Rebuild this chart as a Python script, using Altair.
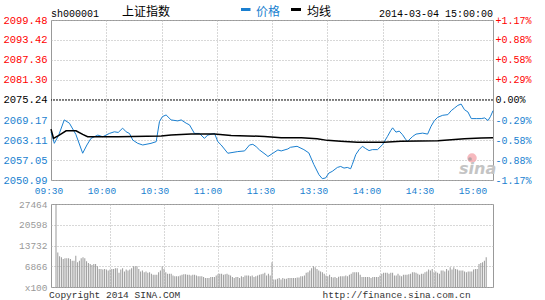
import altair as alt
import pandas as pd

# ---------------- data ----------------
SYMBOL = "sh000001"
NAME = "上证指数"
STAMP = "2014-03-04 15:00:00"
LEGEND_PRICE = "价格"
LEGEND_AVG = "均线"
COPYRIGHT = "Copyright 2014 SINA.COM"
URL = "http://finance.sina.com.cn"
WATERMARK = "sina"

PREV_CLOSE = 2075.24
PRICE_TICKS = [2050.99, 2057.05, 2063.11, 2069.17, 2075.24, 2081.30, 2087.36, 2093.42, 2099.48]
TIME_TICKS = [0, 30, 60, 90, 120, 150, 180, 210, 240]
TIME_LABELS = ["09:30", "10:00", "10:30", "11:00", "11:30", "13:30", "14:00", "14:30", "15:00"]
VOL_TICKS = [0, 6866, 13732, 20598, 27464]

price_minute = [0, 1.8, 4.2, 7.2, 10, 13.5, 17.2, 19.5, 21.7, 25.4, 28.1, 31.7, 34.4, 36.5, 38.9,
                40.8, 42.6, 44.4, 47.1, 49.8, 54.3, 57.1, 58.9, 60.5, 62.5, 65.2, 68.8, 70.7, 73.4,
                75.2, 77.9, 80.6, 83.3, 85.1, 88.8, 90.6, 92.4, 96, 101.4, 105.1, 107.8, 109.6, 111.4,
                113.2, 116.8, 117.8, 120.5, 123.2, 125, 128.6, 130, 133.6, 137.3, 140, 142.7, 145.5,
                147.3, 149.1, 150.9, 152.7, 155.5, 157.3, 159.1, 160.9, 162.7, 163.6, 165.5, 167.3,
                169.1, 170.9, 172.7, 174.5, 177.3, 180, 182.7, 184.5, 185.5, 187.3, 189.1, 190.9,
                192.7, 193.6, 196.4, 198.2, 201.8, 204.5, 206.4, 208.2, 210, 212.7, 215.5, 217.3,
                219.1, 220.9, 222.7, 224.5, 226.4, 228.2, 230.9, 233.6, 235.5, 237.3, 238.7, 240]
price_value = [2065.6, 2062.1, 2064.6, 2069.2, 2068.2, 2064.8, 2059.1, 2061.6, 2063.6, 2064.6,
               2064.1, 2065.1, 2065.6, 2065.4, 2066.7, 2065.6, 2065.1, 2063.1, 2062.1, 2061.6,
               2062.1, 2062.6, 2068.7, 2070.2, 2070.7, 2069.2, 2068.9, 2069.2, 2068.2, 2067.7,
               2065.1, 2065.1, 2063.6, 2064.6, 2065.1, 2062.6, 2061.6, 2059.1, 2059.6, 2059.8,
               2061.6, 2061.8, 2061.1, 2060.1, 2058.6, 2058.1, 2059.1, 2060.1, 2059.8, 2060.4,
               2060.9, 2061.2, 2060.2, 2059.2, 2055.7, 2052.6, 2051.4, 2051.6, 2053.1, 2053.6,
               2054.8, 2055.1, 2054.6, 2054.8, 2054.4, 2055.7, 2058.7, 2060.2, 2061.2, 2060.5,
               2059.9, 2060.2, 2060.2, 2061.7, 2064.2, 2066.0, 2066.8, 2065.5, 2065.8, 2064.7,
               2063.2, 2062.7, 2064.2, 2064.9, 2065.2, 2064.9, 2067.3, 2069.0, 2070.0, 2070.6,
               2070.8, 2072.0, 2072.8, 2073.6, 2074.0, 2072.3, 2071.6, 2069.6, 2069.6, 2069.6,
               2069.8, 2069.0, 2070.3, 2072.0]

avg_minute = [0, 1.4, 4.5, 8.2, 13.6, 17.2, 19.9, 36.2, 59.8, 65.2, 76.1, 88.8, 97.8, 115.9, 125,
              136, 144.5, 150, 157.3, 166.4, 180.9, 190, 210, 217.3, 224.5, 233.6, 240]
avg_value = [2066.4, 2063.6, 2064.6, 2065.9, 2065.9, 2064.8, 2064.1, 2064.1, 2064.3, 2064.6, 2064.9,
             2064.9, 2064.5, 2064.2, 2063.8, 2063.8, 2063.5, 2063.0, 2062.7, 2062.4, 2062.4, 2062.7,
             2062.9, 2063.2, 2063.5, 2063.7, 2063.8]

volume = [
    27464, 11445, 10137, 9810, 9265, 9483, 9483, 9483, 9265, 8720,
    8720, 10355, 8175, 8720, 9483, 9810, 9483, 8502, 7957, 7630,
    7303, 7630, 7630, 6867, 5995, 5995, 5777, 5995, 5777, 5450,
    5777, 5995, 5995, 6213, 6213, 4687, 5777, 6213, 5123, 5777,
    5450, 5777, 6213, 6867, 6867, 6867, 5995, 5123, 5450, 4905,
    5123, 4687, 4905, 4360, 4033, 4033, 4033, 4905, 5450, 6867,
    5995, 4905, 4360, 4360, 4360, 3815, 3597, 3597, 3597, 3815,
    4033, 4251, 4251, 4033, 4033, 3815, 4033, 4033, 3815, 3597,
    3597, 3597, 3270, 2943, 2943, 2943, 3270, 3270, 3270, 3815,
    4251, 4360, 4360, 4033, 4251, 4360, 4033, 3815, 3270, 2943,
    3270, 3270, 2943, 3597, 3270, 3815, 3815, 3815, 3597, 3815,
    3270, 3597, 3815, 4033, 4251, 4360, 4687, 3815, 4360, 3815,
    8175, 2507, 2507, 2725, 2943, 2507, 2943, 2725, 2725, 2943,
    2943, 2943, 2943, 2943, 3161, 3161, 3597, 3597, 3815, 4687,
    4905, 5450, 6213, 6867, 6540, 5995, 5450, 5123, 4905, 4360,
    3815, 3597, 4033, 3270, 3161, 3270, 2943, 3379, 3597, 3597,
    3597, 3815, 3597, 4033, 4360, 4905, 4905, 4905, 4905, 4033,
    3270, 3270, 3270, 3270, 3270, 2943, 3270, 3270, 3270, 3270,
    3815, 4360, 4687, 4687, 4687, 4360, 4687, 4687, 3815, 3815,
    4360, 3815, 3597, 4033, 4033, 4033, 4251, 4360, 4905, 4905,
    4687, 4360, 4033, 4360, 4360, 4905, 5123, 5777, 5450, 5995,
    4905, 5123, 4687, 4360, 5450, 5450, 5123, 5995, 5450, 6540,
    5777, 6540, 5995, 5777, 5450, 5450, 5450, 5123, 4905, 5123,
    5123, 5123, 5777, 5995, 5995, 7630, 7957, 8175, 8720, 9810,
]

# ---------------- style ----------------
BLUE = "#1a7fd0"
RED = "#ff0000"
GRID = "#b0b0b0"
FRAME = "#999999"
MONO = "Liberation Mono"
CJK = "Noto Sans CJK SC"
W = 442
H_PRICE = 160
H_VOL = 83

price_df = pd.DataFrame({"m": price_minute, "p": price_value})
avg_df = pd.DataFrame({"m": avg_minute, "p": avg_value})
vol_df = pd.DataFrame({"m": list(range(len(volume))), "v": volume})
time_df = pd.DataFrame({"t": TIME_LABELS})
base_df = pd.DataFrame({"p": [PREV_CLOSE]})

X_SCALE = alt.Scale(domain=[TIME_TICKS[0], TIME_TICKS[-1]], nice=False, zero=False)
P_SCALE = alt.Scale(domain=[PRICE_TICKS[0], PRICE_TICKS[-1]], nice=False, zero=False)

hi = f"datum.value > {PREV_CLOSE + 0.005}"
lo = f"datum.value < {PREV_CLOSE - 0.005}"
label_color = {"condition": [{"test": hi, "value": RED}, {"test": lo, "value": BLUE}], "value": "#000000"}

x_grid_axis = alt.Axis(values=TIME_TICKS[1:-1], grid=True, gridColor=GRID, gridDash=[1, 2],
                       labels=False, ticks=False, domain=False, title=None, orient="bottom")

price_line = alt.Chart(price_df).mark_line(color=BLUE, strokeWidth=1).encode(
    x=alt.X("m:Q", scale=X_SCALE, axis=x_grid_axis),
    y=alt.Y("p:Q", scale=P_SCALE, axis=alt.Axis(
        values=PRICE_TICKS, format=".2f", orient="left", grid=True, gridColor=GRID, gridDash=[1, 2],
        gridOpacity={"condition": {"test": f"abs(datum.value - {PREV_CLOSE}) < 0.005", "value": 0}, "value": 1},
        labelColor=label_color, labelFontSize=10.5, labelPadding=4, title=None)),
)

pct = f"((datum.value - {PREV_CLOSE}) / {PREV_CLOSE} * 100)"
pct_expr = (f"abs({pct}) < 0.005 ? '\u00a00.00%' : "
            f"({pct} > 0 ? '+' : '-') + format(abs({pct}), '.2f') + '%'")

avg_line = alt.Chart(avg_df).mark_line(color="#000000", strokeWidth=1.5).encode(
    x=alt.X("m:Q", scale=X_SCALE, axis=None),
    y=alt.Y("p:Q", scale=P_SCALE, axis=alt.Axis(
        values=PRICE_TICKS, orient="right", labelExpr=pct_expr, labelColor=label_color,
        grid=False, labelFontSize=10, labelPadding=2, title=None)),
)

base_rule = alt.Chart(base_df).mark_rule(color="#000000", strokeDash=[2, 1], strokeWidth=1).encode(
    y=alt.Y("p:Q", scale=P_SCALE, axis=None)
)

time_axis_layer = alt.Chart(time_df).mark_point(opacity=0).encode(
    x=alt.X("t:N", sort=TIME_LABELS, scale=alt.Scale(type="point", padding=0.17),
            axis=alt.Axis(orient="bottom", labelAngle=0, labelOffset=-11.5, labelColor=BLUE,
                          labelFontSize=9.5, labelPadding=5, ticks=False, domain=False,
                          grid=False, title=None))
)


def label(text, x, y, size, color, font, **kw):
    return alt.Chart(alt.Data(values=[{}])).mark_text(
        text=text, align="left", baseline="alphabetic", fontSize=size, color=color, font=font, **kw
    ).encode(x=alt.value(x), y=alt.value(y))


header = [
    label(SYMBOL, 0, -3.5, 10, "#000000", MONO),
    label(NAME, 71, -4, 12, "#000000", CJK),
    alt.Chart(alt.Data(values=[{}])).mark_rule(color=BLUE, strokeWidth=3).encode(
        x=alt.value(190), x2=alt.value(199.5), y=alt.value(-10.5)),
    label(LEGEND_PRICE, 205, -4, 12, BLUE, CJK),
    alt.Chart(alt.Data(values=[{}])).mark_rule(color="#000000", strokeWidth=3).encode(
        x=alt.value(240), x2=alt.value(250), y=alt.value(-10.5)),
    label(LEGEND_AVG, 256, -4, 12, "#000000", CJK),
    label(STAMP, 328, -3.5, 10, "#000000", MONO),
]
logo = alt.Chart(alt.Data(values=[{}])).mark_point(
    shape="circle", filled=True, color="#f4a8ae", opacity=0.8, size=90
).encode(x=alt.value(421), y=alt.value(138))
logo_eye = alt.Chart(alt.Data(values=[{}])).mark_point(
    shape="circle", filled=True, color="#9a9a9a", opacity=0.7, size=14
).encode(x=alt.value(419), y=alt.value(139))
watermark = label(WATERMARK, 408, 153.5, 16, "#c4c4c4", "DejaVu Sans", fontStyle="italic", fontWeight="bold")

price_panel = alt.layer(logo, logo_eye, watermark, price_line, avg_line, base_rule, time_axis_layer,
                        *header).resolve_scale(
    x="independent", y="independent"
).properties(width=W, height=H_PRICE)

bars = alt.Chart(vol_df).mark_bar(color="#9a9a9a", size=1).encode(
    x=alt.X("m:Q", scale=X_SCALE, axis=x_grid_axis),
    y=alt.Y("v:Q", scale=alt.Scale(domain=[VOL_TICKS[0], VOL_TICKS[-1]], nice=False), axis=alt.Axis(
        values=VOL_TICKS, format="d", labelExpr="datum.value == 0 ? 'x100' : datum.label",
        labelColor="#999999", labelFontSize=9.5, labelPadding=4, grid=True, gridColor=GRID,
        gridDash=[1, 2], title=None)),
)
footer = [
    label(COPYRIGHT, -2, 94, 9.5, "#333333", MONO),
    label(URL, 271.5, 94, 9.5, "#333333", MONO),
]
vol_panel = alt.layer(bars, *footer).properties(width=W, height=H_VOL)

chart = alt.vconcat(price_panel, vol_panel, spacing=24, bounds="flush").properties(
    padding={"left": 2, "top": 5, "right": 5, "bottom": 0}
).configure_view(stroke=FRAME, strokeWidth=1).configure_axis(
    domain=False, ticks=False, labelFont=MONO
)

chart.save("out.html", embed_options={"renderer": "svg", "actions": False})
